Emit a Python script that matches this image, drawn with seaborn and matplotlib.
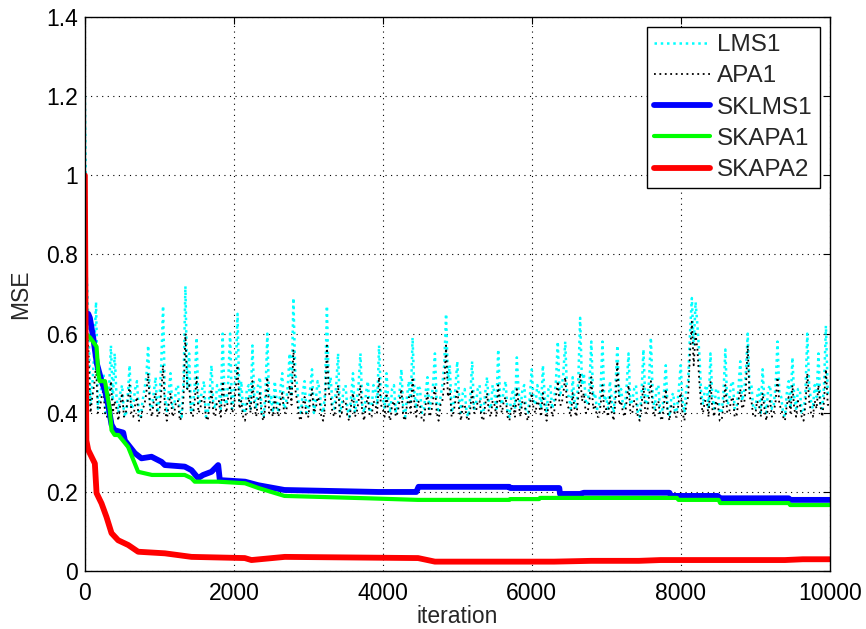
import matplotlib
matplotlib.use('Agg')
import matplotlib.pyplot as plt
import seaborn as sns
import numpy as np

# noisy curves, one value every 25 iterations
step = 25
lms1 = [
    1.20, 0.75, 0.62, 0.42, 0.47, 0.55, 0.68, 0.41, 0.44, 0.47, 0.50, 0.40, 0.41, 0.46, 0.57, 0.43, 0.55, 0.44, 0.40, 0.45,
    0.47, 0.40, 0.39, 0.44, 0.52, 0.41, 0.42, 0.46, 0.48, 0.40, 0.39, 0.43, 0.46, 0.49, 0.57, 0.42, 0.41, 0.45, 0.49, 0.40,
    0.43, 0.52, 0.67, 0.44, 0.40, 0.45, 0.50, 0.41, 0.42, 0.46, 0.47, 0.40, 0.39, 0.48, 0.72, 0.46, 0.55, 0.40, 0.41, 0.47,
    0.59, 0.42, 0.43, 0.46, 0.48, 0.39, 0.40, 0.45, 0.52, 0.42, 0.41, 0.47, 0.46, 0.41, 0.60, 0.44, 0.42, 0.48, 0.60, 0.41,
    0.44, 0.50, 0.65, 0.43, 0.48, 0.40, 0.40, 0.46, 0.47, 0.41, 0.57, 0.44, 0.41, 0.47, 0.49, 0.40, 0.39, 0.45, 0.60, 0.42,
    0.44, 0.40, 0.48, 0.43, 0.40, 0.46, 0.50, 0.41, 0.42, 0.47, 0.55, 0.44, 0.69, 0.50, 0.47, 0.41, 0.40, 0.45, 0.48, 0.40,
    0.41, 0.46, 0.51, 0.40, 0.43, 0.48, 0.46, 0.41, 0.40, 0.45, 0.67, 0.46, 0.49, 0.42, 0.41, 0.47, 0.55, 0.40, 0.42, 0.46,
    0.47, 0.41, 0.39, 0.44, 0.50, 0.40, 0.43, 0.47, 0.55, 0.42, 0.40, 0.45, 0.48, 0.40, 0.41, 0.47, 0.46, 0.42, 0.57, 0.44,
    0.44, 0.41, 0.50, 0.43, 0.40, 0.46, 0.47, 0.40, 0.42, 0.45, 0.51, 0.41, 0.39, 0.44, 0.48, 0.42, 0.59, 0.45, 0.41, 0.47,
    0.46, 0.40, 0.40, 0.45, 0.49, 0.41, 0.43, 0.47, 0.55, 0.42, 0.40, 0.44, 0.47, 0.52, 0.65, 0.48, 0.52, 0.40, 0.42, 0.46,
    0.53, 0.44, 0.40, 0.45, 0.46, 0.40, 0.39, 0.44, 0.53, 0.41, 0.42, 0.46, 0.47, 0.40, 0.40, 0.45, 0.49, 0.42, 0.41, 0.47,
    0.45, 0.41, 0.56, 0.44, 0.42, 0.46, 0.48, 0.40, 0.39, 0.44, 0.46, 0.41, 0.54, 0.45, 0.41, 0.46, 0.47, 0.40, 0.40, 0.44,
    0.51, 0.43, 0.42, 0.47, 0.45, 0.41, 0.52, 0.44, 0.40, 0.46, 0.47, 0.41, 0.43, 0.48, 0.58, 0.44, 0.46, 0.50, 0.58, 0.45,
    0.44, 0.41, 0.49, 0.43, 0.41, 0.48, 0.64, 0.47, 0.50, 0.43, 0.42, 0.47, 0.58, 0.44, 0.45, 0.41, 0.41, 0.46, 0.58, 0.43,
    0.44, 0.41, 0.48, 0.43, 0.40, 0.47, 0.57, 0.44, 0.46, 0.42, 0.41, 0.47, 0.55, 0.42, 0.43, 0.46, 0.47, 0.40, 0.39, 0.45,
    0.56, 0.43, 0.42, 0.48, 0.59, 0.44, 0.41, 0.46, 0.47, 0.40, 0.40, 0.45, 0.52, 0.41, 0.39, 0.44, 0.45, 0.40, 0.41, 0.46,
    0.52, 0.43, 0.40, 0.46, 0.48, 0.60, 0.69, 0.57, 0.68, 0.62, 0.55, 0.45, 0.42, 0.46, 0.47, 0.41, 0.55, 0.44, 0.41, 0.46,
    0.46, 0.40, 0.40, 0.45, 0.56, 0.42, 0.43, 0.47, 0.48, 0.41, 0.41, 0.46, 0.53, 0.43, 0.45, 0.50, 0.60, 0.46, 0.47, 0.41,
    0.41, 0.44, 0.46, 0.40, 0.51, 0.43, 0.40, 0.46, 0.47, 0.41, 0.42, 0.47, 0.58, 0.45, 0.44, 0.40, 0.39, 0.45, 0.48, 0.41,
    0.54, 0.44, 0.41, 0.46, 0.46, 0.40, 0.40, 0.45, 0.60, 0.47, 0.43, 0.41, 0.47, 0.44, 0.55, 0.42, 0.41, 0.47, 0.62, 0.45,
    0.45,
]
apa1 = [
    0.90, 0.62, 0.55, 0.40, 0.44, 0.47, 0.52, 0.40, 0.41, 0.44, 0.46, 0.39, 0.39, 0.43, 0.48, 0.40, 0.43, 0.41, 0.38, 0.42,
    0.45, 0.39, 0.40, 0.43, 0.47, 0.40, 0.39, 0.42, 0.44, 0.38, 0.38, 0.41, 0.42, 0.45, 0.50, 0.41, 0.39, 0.43, 0.45, 0.39,
    0.40, 0.45, 0.52, 0.41, 0.38, 0.42, 0.45, 0.39, 0.40, 0.43, 0.43, 0.38, 0.39, 0.44, 0.60, 0.46, 0.47, 0.40, 0.39, 0.43,
    0.49, 0.40, 0.41, 0.44, 0.44, 0.39, 0.38, 0.42, 0.46, 0.40, 0.39, 0.43, 0.43, 0.39, 0.48, 0.42, 0.40, 0.44, 0.47, 0.40,
    0.41, 0.46, 0.52, 0.41, 0.43, 0.39, 0.38, 0.42, 0.44, 0.40, 0.48, 0.42, 0.39, 0.43, 0.45, 0.39, 0.38, 0.42, 0.49, 0.40,
    0.41, 0.39, 0.44, 0.41, 0.39, 0.43, 0.45, 0.40, 0.40, 0.43, 0.47, 0.42, 0.56, 0.46, 0.43, 0.39, 0.38, 0.42, 0.44, 0.39,
    0.39, 0.43, 0.46, 0.40, 0.41, 0.44, 0.43, 0.39, 0.38, 0.42, 0.57, 0.45, 0.44, 0.40, 0.39, 0.43, 0.47, 0.39, 0.40, 0.43,
    0.43, 0.39, 0.38, 0.42, 0.45, 0.39, 0.40, 0.43, 0.47, 0.40, 0.38, 0.42, 0.44, 0.39, 0.39, 0.43, 0.42, 0.40, 0.49, 0.42,
    0.41, 0.39, 0.45, 0.40, 0.38, 0.42, 0.43, 0.39, 0.40, 0.43, 0.46, 0.39, 0.38, 0.42, 0.44, 0.40, 0.49, 0.42, 0.39, 0.43,
    0.42, 0.38, 0.38, 0.42, 0.45, 0.39, 0.40, 0.43, 0.47, 0.40, 0.38, 0.42, 0.43, 0.47, 0.57, 0.44, 0.46, 0.39, 0.40, 0.43,
    0.46, 0.41, 0.38, 0.42, 0.42, 0.39, 0.38, 0.41, 0.46, 0.40, 0.40, 0.43, 0.43, 0.39, 0.38, 0.42, 0.45, 0.40, 0.39, 0.43,
    0.42, 0.39, 0.47, 0.42, 0.40, 0.43, 0.44, 0.39, 0.38, 0.41, 0.42, 0.39, 0.46, 0.42, 0.39, 0.43, 0.43, 0.39, 0.38, 0.42,
    0.45, 0.41, 0.40, 0.43, 0.42, 0.39, 0.45, 0.41, 0.38, 0.42, 0.43, 0.39, 0.40, 0.44, 0.48, 0.42, 0.42, 0.45, 0.49, 0.42,
    0.41, 0.39, 0.45, 0.41, 0.39, 0.44, 0.50, 0.43, 0.45, 0.40, 0.40, 0.43, 0.49, 0.41, 0.42, 0.39, 0.39, 0.42, 0.47, 0.40,
    0.41, 0.39, 0.44, 0.40, 0.38, 0.43, 0.53, 0.42, 0.43, 0.40, 0.39, 0.43, 0.47, 0.40, 0.40, 0.43, 0.43, 0.39, 0.38, 0.42,
    0.47, 0.40, 0.40, 0.44, 0.48, 0.41, 0.39, 0.42, 0.43, 0.39, 0.38, 0.42, 0.46, 0.40, 0.38, 0.42, 0.42, 0.39, 0.39, 0.43,
    0.45, 0.40, 0.38, 0.42, 0.44, 0.55, 0.63, 0.52, 0.60, 0.56, 0.48, 0.42, 0.40, 0.43, 0.43, 0.39, 0.48, 0.41, 0.39, 0.43,
    0.42, 0.38, 0.38, 0.42, 0.47, 0.40, 0.40, 0.43, 0.44, 0.39, 0.39, 0.43, 0.46, 0.41, 0.42, 0.46, 0.57, 0.44, 0.43, 0.39,
    0.39, 0.43, 0.42, 0.39, 0.45, 0.41, 0.38, 0.42, 0.43, 0.39, 0.40, 0.43, 0.49, 0.42, 0.41, 0.39, 0.38, 0.42, 0.44, 0.40,
    0.47, 0.41, 0.39, 0.43, 0.42, 0.39, 0.38, 0.42, 0.50, 0.43, 0.40, 0.39, 0.43, 0.41, 0.47, 0.42, 0.39, 0.43, 0.51, 0.42,
    0.42,
]
lms1_it = np.arange(len(lms1)) * step
apa1_it = np.arange(len(apa1)) * step

# smooth curves, breakpoints
sklms1_it = [10, 45, 67, 112, 160, 224, 268, 313, 358, 400, 515, 537, 671, 760, 895, 1030, 1074, 1342, 1432,
             1521, 1588, 1700, 1790, 1812, 2150, 2330, 2680, 3940, 4450, 4480, 5700, 5710, 6370, 6380, 6650,
             6700, 7850, 7870, 8500, 8520, 9450, 9470, 10000]
sklms1 = [0.65, 0.65, 0.64, 0.59, 0.525, 0.48, 0.457, 0.42, 0.37, 0.356, 0.35, 0.33, 0.298, 0.285, 0.289,
          0.276, 0.268, 0.264, 0.255, 0.235, 0.243, 0.251, 0.268, 0.23, 0.226, 0.217, 0.205, 0.2, 0.2, 0.213,
          0.213, 0.21, 0.21, 0.195, 0.195, 0.198, 0.198, 0.19, 0.19, 0.184, 0.184, 0.18, 0.18]

skapa1_it = [10, 70, 157, 180, 200, 270, 290, 335, 358, 400, 450, 580, 715, 900, 1340, 1430, 1475, 1790, 2150,
             2330, 2680, 3800, 4470, 5700, 5710, 6100, 6110, 7950, 7970, 8510, 8530, 9450, 9470, 10000]
skapa1 = [0.6, 0.59, 0.567, 0.5, 0.48, 0.48, 0.457, 0.407, 0.356, 0.344, 0.344, 0.314, 0.251, 0.243, 0.243,
          0.235, 0.226, 0.226, 0.222, 0.21, 0.19, 0.184, 0.18, 0.18, 0.182, 0.182, 0.185, 0.185, 0.18, 0.18,
          0.172, 0.172, 0.167, 0.167]

skapa2_it = [0, 10, 20, 45, 134, 157, 224, 290, 358, 447, 582, 715, 1074, 1432, 2147, 2237, 2684, 4474, 4700,
             6300, 6800, 7440, 7730, 9400, 9640, 10000]
skapa2 = [1.0, 0.6, 0.33, 0.306, 0.272, 0.197, 0.171, 0.137, 0.096, 0.078, 0.066, 0.049, 0.045, 0.036, 0.033,
          0.028, 0.036, 0.033, 0.024, 0.024, 0.026, 0.026, 0.028, 0.028, 0.03, 0.03]

sns.set_style('white')
plt.rcParams['font.family'] = ['Liberation Sans', 'DejaVu Sans']

fig = plt.figure(figsize=(8.66, 6.29), dpi=100)
ax = fig.add_axes([0.098, 0.092, 0.86, 0.881])

sns.lineplot(x=lms1_it, y=lms1, ax=ax, color='cyan', lw=1.8, linestyle=(0, (1, 1.5)), label='LMS1',
             estimator=None, sort=False)
sns.lineplot(x=apa1_it, y=apa1, ax=ax, color='black', lw=1.3, linestyle=(0, (1, 2)), label='APA1',
             estimator=None, sort=False)
sns.lineplot(x=sklms1_it, y=sklms1, ax=ax, color='blue', lw=4.2, label='SKLMS1', estimator=None, sort=False)
sns.lineplot(x=skapa1_it, y=skapa1, ax=ax, color='#00ff00', lw=3, label='SKAPA1', estimator=None, sort=False)
sns.lineplot(x=skapa2_it, y=skapa2, ax=ax, color='red', lw=4.2, label='SKAPA2', estimator=None, sort=False)

ax.set_xlim(0, 10000)
ax.set_ylim(0, 1.4)
ax.set_xticks(range(0, 10001, 2000))
yt = [0, 0.2, 0.4, 0.6, 0.8, 1.0, 1.2, 1.4]
ax.set_yticks(yt)
ax.set_yticklabels(['0', '0.2', '0.4', '0.6', '0.8', '1', '1.2', '1.4'])
ax.grid(True, color='black', linestyle=(0, (1, 4)), lw=0.8)
ax.tick_params(direction='in', top=True, right=True, length=5, labelsize=16.5, colors='black')
ax.tick_params(axis='x', pad=7.5)
ax.tick_params(axis='y', pad=5)
for s in ax.spines.values():
    s.set_color('black')
    s.set_linewidth(1)
ax.set_xlabel('iteration', fontsize=16.5, labelpad=0)
ax.set_ylabel('MSE', fontsize=16.5, labelpad=10)

leg = ax.legend(loc='upper right', fontsize=17.5, frameon=True, fancybox=False, framealpha=1,
                edgecolor='black', borderaxespad=0.4, handlelength=2.3, labelspacing=0.38,
                borderpad=0.3, handletextpad=0.3)
leg.get_frame().set_linewidth(1)

fig.savefig('out.png', dpi=100)
